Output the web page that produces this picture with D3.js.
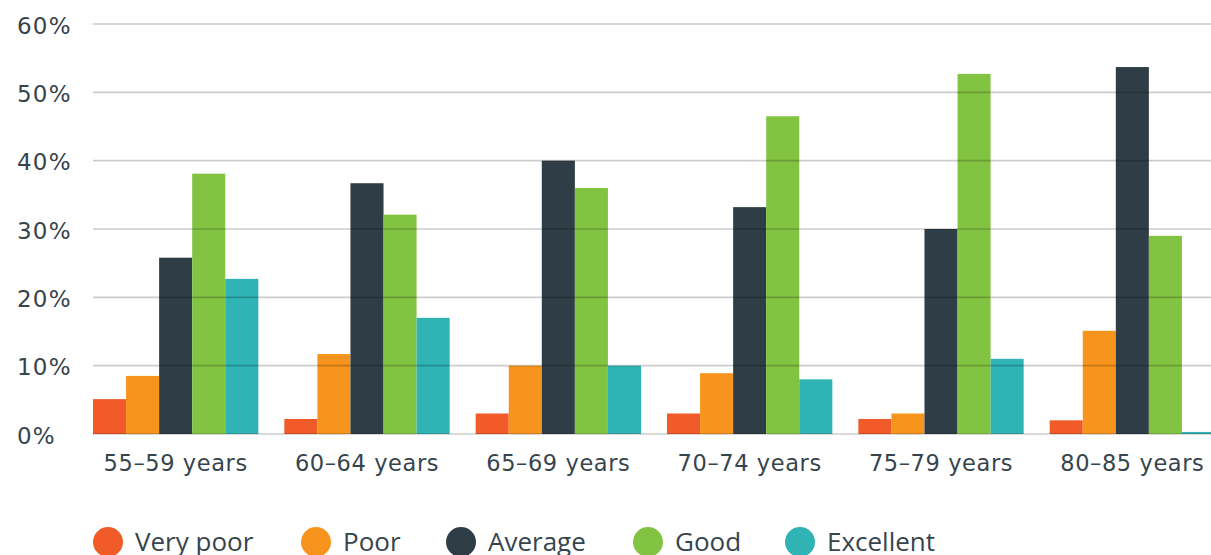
<!DOCTYPE html>
<html>
<head>
<meta charset="utf-8">
<script src="https://cdn.jsdelivr.net/npm/d3@7"></script>
<style>
  html, body { margin: 0; padding: 0; background: #fff; overflow: hidden; }
  svg { display: block; }
</style>
</head>
<body>
<svg id="chart" width="1211" height="555"></svg>
<script>
// Self-rated health by age group (% of respondents)
const ageGroups = ["55–59 years", "60–64 years", "65–69 years", "70–74 years", "75–79 years", "80–85 years"];
const ratings = ["Very poor", "Poor", "Average", "Good", "Excellent"];
const veryPoor  = [5.1, 2.2, 3.0, 3.0, 2.2, 2.0];
const poor      = [8.5, 11.7, 10.0, 8.9, 3.0, 15.1];
const average   = [25.8, 36.7, 40.0, 33.2, 30.0, 53.7];
const good      = [38.1, 32.1, 36.0, 46.5, 52.7, 29.0];
const excellent = [22.7, 17.0, 10.0, 8.0, 11.0, 0.3];
const yTicks = [0, 10, 20, 30, 40, 50, 60];
const colors = ["#f15a29", "#f7941d", "#2f3e46", "#82c341", "#2fb3b4"];

const seriesValues = [veryPoor, poor, average, good, excellent];
const rows = ageGroups.map((g, i) => ({
  group: g,
  values: ratings.map((r, j) => ({ rating: r, value: seriesValues[j][i] }))
}));

const svg = d3.select("#chart");
const textColor = "#36454d";
const axisFont = "'DejaVu Sans', sans-serif";

const x0 = d3.scaleBand().domain(ageGroups).range([93, 1215]).paddingInner(0.136).paddingOuter(0).align(0);
const x1 = d3.scaleBand().domain(ratings).range([0, x0.bandwidth()]).padding(0);
const y = d3.scaleLinear().domain([0, 60]).range([434, 24]);
const color = d3.scaleOrdinal().domain(ratings).range(colors);

// Bars
svg.append("g").selectAll("g")
  .data(rows).join("g")
  .attr("transform", d => `translate(${x0(d.group)},0)`)
  .selectAll("rect")
  .data(d => d.values).join("rect")
  .attr("x", d => x1(d.rating))
  .attr("y", d => y(d.value))
  .attr("width", x1.bandwidth())
  .attr("height", d => y(0) - y(d.value))
  .attr("fill", d => color(d.rating));

// Horizontal gridlines, drawn over the bars
svg.append("g").selectAll("line.grid")
  .data(yTicks).join("line")
  .attr("class", "grid")
  .attr("x1", 93).attr("x2", 1211)
  .attr("y1", d => y(d)).attr("y2", d => y(d))
  .attr("stroke", "rgba(0,0,0,0.2)")
  .attr("stroke-width", 1.6);

// Y-axis labels
const yAxis = d3.axisLeft(y).tickValues(yTicks).tickSize(0).tickFormat(d => d + "%");
const ya = svg.append("g").attr("transform", "translate(17,0)").call(yAxis);
ya.select(".domain").remove();
ya.selectAll("text")
  .attr("x", 0)
  .attr("text-anchor", "start")
  .attr("dy", "0.4em")
  .attr("fill", textColor)
  .style("font-family", axisFont)
  .style("font-size", "23px")
  .style("letter-spacing", "1.2px");

// X-axis labels
const xa = svg.append("g").attr("transform", `translate(0,${y(0)})`)
  .call(d3.axisBottom(x0).tickSize(0));
xa.select(".domain").remove();
xa.selectAll("text")
  .attr("y", 37)
  .attr("dy", 0)
  .attr("fill", textColor)
  .style("font-family", axisFont)
  .style("font-size", "22.5px")
  .style("letter-spacing", "0.6px");

// Legend
const legendX = [108, 316, 461, 648, 800];
const legend = svg.append("g").selectAll("g")
  .data(ratings).join("g")
  .attr("transform", (d, i) => `translate(${legendX[i]},542)`);
legend.append("circle").attr("r", 15).attr("fill", d => color(d));
legend.append("text")
  .attr("x", 27).attr("y", 0).attr("dy", "0.36em")
  .attr("fill", textColor)
  .style("font-family", "'Open Sans', sans-serif")
  .style("font-size", "26px")
  .text(d => d);
</script>
</body>
</html>
